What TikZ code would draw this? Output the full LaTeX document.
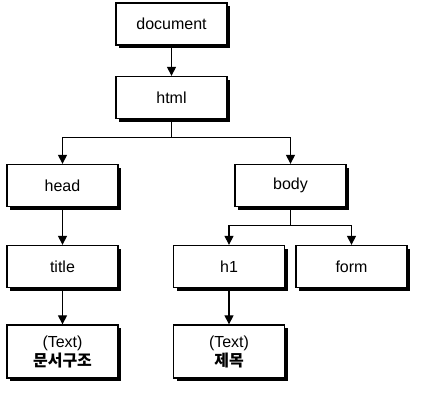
\documentclass[tikz,border=0pt]{standalone}
\usepackage{fontspec}
\setmainfont{Liberation Sans}
\newfontfamily\kor{Noto Sans CJK KR}
\usepackage{xcolor}
\usetikzlibrary{arrows.meta, shadows, calc}

\begin{document}
\begin{tikzpicture}[x=1pt,y=-1pt,
    box/.style={draw,line width=1.3pt,fill=white,minimum width=111pt,
      minimum height=42pt,font=\fontsize{16}{19}\selectfont,
      drop shadow={shadow xshift=3pt,shadow yshift=-3pt,
        fill=black,opacity=1}},
    textbox/.style={box,minimum height=53pt,align=center,
      font=\fontsize{16}{19}\selectfont},
    link/.style={line width=1.1pt,-{Triangle[width=9pt,length=9pt]}}
  ]
  \useasboundingbox (0,0) rectangle (422,405);
  \node[box] (document) at (171.5,24) {document};
  \node[box] (html) at (171.5,97.5) {html};
  \node[box] (head) at (62.5,185.5) {head};
  \node[box] (body) at (290.5,185.5) {body};
  \node[box] (title) at (62.5,266.5) {title};
  \node[box] (h1) at (229,266.5) {h1};
  \node[box] (form) at (351.5,266.5) {form};
  \node[textbox] (titletext) at (62.5,351.5)
    {(Text)\\{\kor\bfseries 문서구조}};
  \node[textbox] (h1text) at (229,351.5)
    {(Text)\\{\kor\bfseries 제목}};
  \coordinate (htmlsplit) at ($(html.south)+(0,18)$);
  \coordinate (bodysplit) at ($(body.south)+(0,18)$);
  \draw[link] (document) -- (html);
  \draw[link] (html.south) -- (htmlsplit) -| (head.north);
  \draw[link] (htmlsplit) -| (body.north);
  \draw[link] (body.south) -- (bodysplit) -| (h1.north);
  \draw[link] (bodysplit) -| (form.north);
  \draw[link] (head) -- (title);
  \draw[link] (title) -- (titletext);
  \draw[link] (h1) -- (h1text);
\end{tikzpicture}
\end{document}
